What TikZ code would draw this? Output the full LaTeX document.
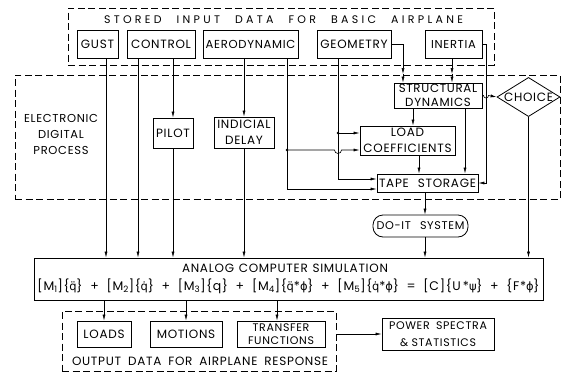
\documentclass[tikz,border=0pt]{standalone}
\usepackage{fontspec}
\setmainfont[LetterSpace=6]{Poppins}
\newfontfamily\widefont[LetterSpace=30]{Poppins}
\newfontfamily\dvfont{DejaVu Sans}
\usetikzlibrary{arrows.meta,shapes.geometric,calc}
\newcommand{\spreadtxt}[2]{\makebox[#1][s]{#2}}
\newcommand{\qdd}{{\dvfont\fontsize{11.5}{14}\selectfont q̈}}
\newcommand{\qd}{{\dvfont\fontsize{11.5}{14}\selectfont q̇}}
\newcommand{\gphi}{{\dvfont\fontsize{11.5}{14}\selectfont ϕ}}
\newcommand{\gpsi}{{\dvfont\fontsize{11.5}{14}\selectfont ψ}}
\begin{document}
\begin{tikzpicture}[x=1pt,y=-1pt,
  every node/.style={font=\fontsize{12}{14}\selectfont, inner sep=0pt},
  box/.style={draw, line width=0.8pt, rectangle, align=center},
  dbox/.style={draw, line width=0.8pt, dash pattern=on 7pt off 3.5pt},
  arr/.style={line width=0.6pt, -{Latex[length=6pt,width=3pt]}}]
\useasboundingbox (0,0) rectangle (563,373);

% dashed group boxes
\node[dbox, minimum width=426pt, minimum height=57pt] (stored) at (281,36.5) {};
\node[dbox, minimum width=545pt, minimum height=124pt] (edp) at (287.5,137) {};
\node[dbox, minimum width=274pt, minimum height=60pt] (out) at (199,341) {};

\node[font=\widefont\fontsize{11}{12}\selectfont] (storedlbl) at (283.5,20)
  {\spreadtxt{359pt}{STORED\hspace{6pt} INPUT\hspace{6pt} DATA\hspace{6pt} FOR\hspace{6pt} BASIC\hspace{6pt} AIRPLANE}};
\node[align=center, font=\fontsize{11.5}{16}\selectfont] (edplbl) at (61,134) {ELECTRONIC\\DIGITAL\\PROCESS};
\node (outlbl) at (200,361) {\spreadtxt{256pt}{OUTPUT DATA FOR AIRPLANE RESPONSE}};

% input boxes
\node[box, minimum width=41pt, minimum height=28pt] (gust) at (97.5,44) {GUST};
\node[box, minimum width=68pt, minimum height=28pt] (control) at (161,44) {CONTROL};
\node[box, minimum width=95pt, minimum height=28pt, font=\fontsize{11.6}{14}\selectfont] (aero) at (250.5,44) {AERODYNAMIC};
\node[box, minimum width=74pt, minimum height=28pt] (geom) at (354,44) {GEOMETRY};
\node[box, minimum width=57pt, minimum height=28pt, font=\fontsize{11.5}{14}\selectfont] (inertia) at (453.5,44) {INERTIA};

% process boxes
\node[box, minimum width=40pt, minimum height=30pt] (pilot) at (173,133) {PILOT};
\node[box, minimum width=60pt, minimum height=31pt, font=\fontsize{12}{16}\selectfont] (indicial) at (244,132.5) {INDICIAL\\DELAY};
\node[box, minimum width=88pt, minimum height=25pt, font=\fontsize{11.8}{13.5}\selectfont] (sd) at (438,95.5) {STRUCTURAL\\DYNAMICS};
\node[draw, line width=0.8pt, diamond, minimum width=63pt, minimum height=38pt, shape aspect=1.6] (choice) at (528.5,97) {CHOICE};
\node[box, minimum width=95pt, minimum height=29pt, font=\fontsize{12}{16}\selectfont] (lc) at (407.5,140.5) {LOAD\\COEFFICIENTS};
\node[box, minimum width=101pt, minimum height=18pt] (tape) at (427.5,183) {\spreadtxt{97pt}{TAPE STORAGE}};
\node[box, rounded corners=10pt, minimum width=95pt, minimum height=22pt, font=\fontsize{11.2}{14}\selectfont] (doit) at (420.5,226) {\spreadtxt{88pt}{DO-IT SYSTEM}};

% analog
\node[box, minimum width=509pt, minimum height=42pt] (analog) at (288.5,279) {};
\node (analoglbl) at (285,268) {\spreadtxt{206pt}{ANALOG COMPUTER SIMULATION}};
\node[font=\fontsize{12.5}{14}\selectfont] (eq) at (288.5,286) {\spreadtxt{502pt}{[M\textsubscript{1}]\{\qdd\} + [M\textsubscript{2}]\{\qd\} + [M\textsubscript{3}]\{q\} + [M\textsubscript{4}]\{\qdd*\gphi\} + [M\textsubscript{5}]\{\qd*\gphi\} = [C]\{U\,*\gpsi\} + \{F*\gphi\}}};

% outputs
\node[box, minimum width=54pt, minimum height=26pt] (loads) at (104,334) {LOADS};
\node[box, minimum width=72pt, minimum height=26pt] (motions) at (186,334) {MOTIONS};
\node[box, minimum width=88pt, minimum height=26pt, font=\fontsize{11}{13}\selectfont] (transfer) at (281,334) {TRANSFER\\FUNCTIONS};
\node[box, minimum width=112pt, minimum height=32pt, font=\fontsize{11}{17}\selectfont] (power) at (438,334) {\spreadtxt{98pt}{POWER SPECTRA}\\\spreadtxt{76pt}{\& STATISTICS}};

% x positions
\coordinate (xg) at (106,0);
\coordinate (xc1) at (138,0);
\coordinate (xa2) at (287,0);
\coordinate (xge) at (338,0);
\coordinate (xir) at (486,0);
\coordinate (xsd1) at (413,0);
\coordinate (xsd2) at (465,0);
\coordinate (xlc) at (419,0);
\coordinate (xtp) at (425,0);
\coordinate (xt) at (277,0);
\coordinate (gx) at (403,74);
\coordinate (ix) at (452,74);
\coordinate (j1) at (287,150);
\coordinate (j2) at (338,133);
\coordinate (tin1) at ($(tape.west)+(0,-4)$);
\coordinate (tin2) at ($(tape.west)+(0,6)$);

% connectors
\draw[arr] (gust.south -| xg) -- (analog.north -| xg);
\draw[arr] (control.south -| xc1) -- (analog.north -| xc1);
\draw[arr] (control.south -| pilot) -- (pilot.north);
\draw[arr] (pilot.south) -- (analog.north -| pilot);
\draw[arr] (aero.south -| indicial) -- (indicial.north);
\draw[arr] (indicial.south) -- (analog.north -| indicial);
\draw[arr] (aero.south -| xa2) |- (tin2);
\draw[arr] (j1) -- ($(j1 -| xge)+(-3.5,0)$) arc (180:0:3.5) -- (lc.west |- j1);
\draw[arr] (geom.south -| xge) |- (tin1);
\draw[arr] (j2) -- (lc.west |- j2);
\fill (j1) circle (1.3pt);
\fill (j2) circle (1.3pt);
\draw[arr] (geom.east) -| (gx);
\draw[arr] (gx) -- (sd.north -| gx);
\draw[arr] (inertia.south -| ix) -- (ix);
\draw[arr] (ix) -- (sd.north -| ix);
\draw[arr] (inertia.east) -| (xir |- tape.east) -- (tape.east);
\draw[arr] (sd.east) -- ($(sd.east -| xir)+(-2.5,0)$) arc (180:0:2.5) -- (choice.west);
\draw[arr] (sd.south -| xsd1) -- (lc.north -| xsd1);
\draw[arr] (sd.south -| xsd2) -- (tape.north -| xsd2);
\draw[arr] (lc.south -| xlc) -- (tape.north -| xlc);
\draw[arr] (tape.south -| xtp) -- (doit.north -| xtp);
\draw[arr] (doit.south -| xtp) -- (analog.north -| xtp);
\draw[arr] (choice.south) -- (analog.north -| choice.south);
\draw[arr] (analog.south -| loads) -- (loads.north);
\draw[arr] (analog.south -| motions) -- (motions.north);
\draw[arr] (analog.south -| xt) -- (transfer.north -| xt);
\draw[arr] (out.east |- power) -- (power.west);
\end{tikzpicture}
\end{document}
